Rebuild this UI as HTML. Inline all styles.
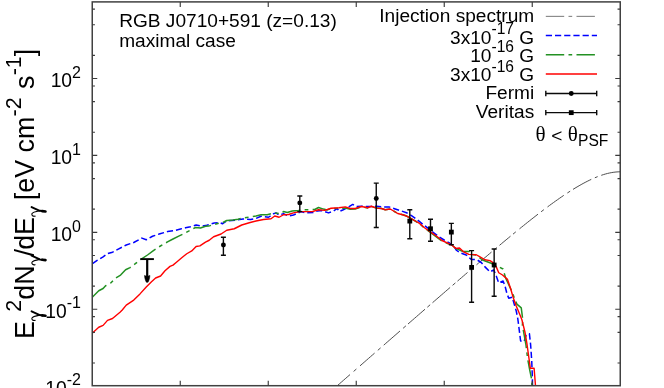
<!DOCTYPE html>
<html><head><meta charset="utf-8"><title>plot</title>
<style>html,body{margin:0;padding:0;background:#fff;}body{width:664px;height:388px;overflow:hidden;}svg{display:block;will-change:transform;}text{filter:grayscale(1);}text{font-family:"Liberation Sans", sans-serif;fill:#000;}</style>
</head><body>
<svg width="664" height="388" viewBox="0 0 664 388">
<rect x="0" y="0" width="664" height="388" fill="#fff"/>
<path d="M337.40,385.60 L339.50,383.76 L341.60,381.93 L343.70,380.10 L345.80,378.26 L347.90,376.43 L350.00,374.60 M360.00,365.86 L362.09,364.04 L364.17,362.22 L366.26,360.40 L368.34,358.58 L370.43,356.76 L372.51,354.94 L374.60,353.12 M383.75,345.14 L385.78,343.37 L387.81,341.60 L389.84,339.83 L391.88,338.06 L393.91,336.29 L395.94,334.52 L397.97,332.75 L400.00,330.98 M408.00,324.01 L410.12,322.16 L412.25,320.31 L414.38,318.46 L416.50,316.62 L418.62,314.77 L420.75,312.92 L422.88,311.07 L425.00,309.23 M432.50,302.72 L434.70,300.81 L436.90,298.90 L439.10,297.00 L441.30,295.09 L443.50,293.19 L445.70,291.28 L447.90,289.38 L450.10,287.48 M457.50,281.10 L459.50,279.38 L461.50,277.66 L463.50,275.94 L465.50,274.22 L467.50,272.50 M476.50,264.80 L478.64,262.97 L480.79,261.15 L482.93,259.32 L485.07,257.50 L487.21,255.69 L489.36,253.87 L491.50,252.06 M499.50,245.34 L501.70,243.50 L503.90,241.67 L506.10,239.84 L508.30,238.02 L510.50,236.20 M519.50,228.84 L521.56,227.18 L523.61,225.52 L525.67,223.87 L527.72,222.23 L529.78,220.60 L531.83,218.97 L533.89,217.36 L535.94,215.76 L538.00,214.16 M547.50,206.96 L549.53,205.45 L551.56,203.96 L553.59,202.49 L555.62,201.04 L557.66,199.60 L559.69,198.18 L561.72,196.77 L563.75,195.39 M573.00,189.40 L575.03,188.15 L577.06,186.94 L579.08,185.75 L581.11,184.60 L583.14,183.48 L585.17,182.40 L587.19,181.35 L589.22,180.35 L591.25,179.38 M601.25,175.32 L603.36,174.63 L605.46,174.01 L607.57,173.45 L609.67,172.97 L611.78,172.57 L613.88,172.24 L615.99,172.00 L618.09,171.85 L620.20,171.80 M353.60,371.45 L356.40,369.01 M377.80,350.33 L380.60,347.89 M403.10,328.28 L405.90,325.84 M427.35,307.19 L430.15,304.76 M452.60,285.32 L455.40,282.91 M470.60,269.84 L473.40,267.45 M494.10,249.87 L496.90,247.52 M513.00,234.15 L515.80,231.85 M541.10,211.78 L543.90,209.65 M567.35,193.00 L570.15,191.19 M594.85,177.78 L597.65,176.64" fill="none" stroke="#444" stroke-width="0.95"/>
<path d="M92.50,263.60 L97.50,260.20 L103.10,256.90 L107.50,253.70 L112.50,252.20 L118.75,248.90 L126.25,245.00 L133.75,242.50 L141.90,238.10 L146.25,239.75 L152.50,236.25 L160.00,233.75 L167.50,231.60 L174.90,230.50 L180.50,229.00 L185.50,227.75 L190.50,226.75 L196.10,225.00 L201.75,226.25 L206.75,225.25 L214.25,223.00 L220.50,222.75 L222.40,223.75 L226.75,220.90 L235.50,220.25 L243.00,219.00 L250.50,219.60 L256.00,218.40 L261.00,216.25 L268.50,217.25 L273.50,213.75 L276.00,212.90 L279.10,215.00 L283.50,213.75 L288.50,216.00 L293.50,215.00 L298.50,212.90 L301.00,211.60 L306.00,212.90 L313.50,212.50 L317.25,211.00 L322.00,210.60 L328.50,212.90 L333.50,211.00 L337.25,208.50 L339.00,211.50 L342.75,210.00 L347.75,207.50 L352.75,204.40 L356.50,206.50 L361.50,206.25 L367.75,206.50 L376.50,206.25 L382.75,206.90 L389.00,206.90 L395.25,209.00 L401.50,211.00 L406.50,212.75 L411.50,215.60 L417.00,219.60 L423.25,224.60 L428.25,228.40 L434.50,233.40 L439.50,237.10 L444.50,240.25 L449.50,243.00 L454.50,247.10 L456.40,250.25 L460.00,252.75 L466.25,255.00 L471.25,259.40 L476.90,259.75 L481.25,262.50 L485.00,266.90 L490.00,271.90 L493.75,270.00 L496.25,276.00 L498.75,282.90 L503.10,281.00 L505.00,286.00 L506.90,293.50 L508.75,298.25 L512.25,297.25 L514.40,304.75 L516.25,311.00 L517.75,318.50 L518.50,324.00 L520.60,341.00 L524.10,341.40 L525.90,335.75 L529.40,333.70 L530.60,344.50 L531.70,360.30 L532.40,377.80 L532.50,385.70" fill="none" stroke="#0000ff" stroke-width="1.5" stroke-dasharray="6.2,3" stroke-linejoin="round"/>
<path d="M92.50,297.00 L98.75,290.75 L103.10,288.50 L105.60,285.75 L111.25,282.60 L115.60,278.00 L120.60,275.10 L125.60,269.75 L130.00,267.60 L135.00,263.90 L140.00,260.00 L147.50,255.00 L153.75,250.30 L160.00,246.25 L167.50,241.90 L173.00,239.00 L179.25,235.90 L186.75,232.10 L191.75,229.60 L195.50,227.50 L200.50,228.00 L205.50,226.25 L208.60,226.10 L214.50,224.40 L220.50,222.75 L223.00,222.50 L226.75,220.50 L233.00,220.00 L238.00,219.25 L244.25,217.75 L249.25,217.10 L256.00,216.00 L261.00,214.75 L267.25,214.75 L274.75,212.90 L280.40,213.75 L283.50,211.60 L287.25,212.50 L292.25,211.00 L298.50,210.40 L303.50,209.75 L309.10,209.75 L314.75,209.50 L318.50,207.50 L323.50,209.10 L327.00,210.00 L331.00,208.50 L339.00,208.30 L345.25,208.00 L350.25,209.30 L355.25,209.00 L361.50,206.80 L367.75,207.90 L371.50,206.50 L376.50,208.10 L381.50,208.50 L385.25,209.75 L390.25,209.00 L394.00,211.25 L397.75,213.50 L402.75,214.75 L406.50,216.00 L410.25,218.10 L415.25,221.00 L419.50,223.60 L424.50,228.20 L430.75,232.60 L437.00,237.30 L442.00,241.00 L448.25,243.80 L452.00,245.40 L455.75,248.40 L463.00,251.50 L469.40,251.50 L471.00,254.20 L476.25,255.00 L482.50,260.00 L492.50,263.75 L498.00,266.25 L503.00,269.00 L505.60,277.90 L508.75,284.75 L512.25,292.25 L515.00,299.75 L516.90,304.10 L521.25,307.90 L521.90,312.90 L522.75,319.75 L522.40,325.25 L525.90,344.50 L527.60,358.50 L529.90,370.80 L531.70,379.50 L532.00,385.70" fill="none" stroke="#239123" stroke-width="1.5" stroke-dasharray="18.4,4.3,3.7,4.3" stroke-linejoin="round"/>
<path d="M92.50,332.90 L98.75,327.25 L103.10,325.40 L107.50,320.40 L112.50,318.50 L120.00,312.25 L122.25,310.00 L126.25,305.10 L133.75,300.10 L140.00,293.90 L146.25,287.00 L151.25,282.00 L155.60,278.00 L160.60,276.00 L165.00,270.75 L170.00,266.40 L173.00,265.10 L176.75,262.00 L181.75,257.75 L186.75,253.75 L191.75,250.90 L196.10,246.50 L199.90,245.90 L205.50,242.10 L209.25,240.25 L213.60,236.75 L221.10,234.00 L226.75,230.25 L234.25,228.75 L241.75,225.00 L249.25,222.75 L256.00,221.00 L263.50,219.50 L271.00,218.75 L274.75,216.00 L279.10,217.25 L283.50,214.75 L288.50,214.50 L293.50,212.90 L299.75,211.60 L306.00,211.60 L312.25,211.60 L318.50,209.75 L324.75,210.40 L331.00,208.25 L339.00,207.75 L345.25,206.90 L350.25,208.50 L355.25,208.50 L361.50,206.50 L367.75,207.75 L371.50,206.25 L376.50,208.10 L381.50,208.50 L385.25,209.75 L390.25,209.00 L394.00,211.25 L397.75,213.50 L402.75,214.75 L406.50,216.00 L410.25,218.10 L415.25,221.00 L419.50,223.40 L424.50,227.75 L430.75,232.10 L437.00,236.50 L442.00,240.50 L448.25,243.40 L452.00,245.25 L455.75,248.40 L459.50,248.00 L463.75,251.90 L468.75,254.40 L476.25,254.75 L480.00,256.90 L485.00,259.75 L490.00,260.60 L493.75,263.10 L496.25,266.90 L498.75,272.75 L502.50,275.00 L507.50,279.40 L510.60,288.50 L513.10,297.25 L516.25,306.00 L519.40,313.50 L521.90,319.75 L525.00,332.25 L526.80,342.75 L528.50,355.00 L530.30,368.20 L534.10,368.20 L535.50,385.70" fill="none" stroke="#ff0000" stroke-width="1.4" stroke-linejoin="round"/>
<path d="M140.3,259.1 H153.9" stroke="#000" stroke-width="1.9" fill="none"/>
<path d="M147.2,259.1 V277" stroke="#000" stroke-width="2.2" fill="none"/>
<path d="M144.5,275.4 L147.2,276.4 L149.9,275.4 C149.8,278 149,280.6 148.0,282.3 L146.4,282.3 C145.4,280.6 144.6,278 144.5,275.4 Z" fill="#000" stroke="#000" stroke-width="0.5" stroke-linejoin="round"/>
<path d="M223.40,237.20 V255.20 M220.90,237.20 H225.90 M220.90,255.20 H225.90" stroke="#0a0a0a" stroke-width="1.4" fill="none"/>
<circle cx="223.40" cy="245.00" r="2.45" fill="#000"/>
<path d="M299.80,196.00 V211.60 M297.30,196.00 H302.30 M297.30,211.60 H302.30" stroke="#0a0a0a" stroke-width="1.4" fill="none"/>
<circle cx="299.80" cy="202.90" r="2.45" fill="#000"/>
<path d="M376.25,183.10 V227.50 M373.75,183.10 H378.75 M373.75,227.50 H378.75" stroke="#0a0a0a" stroke-width="1.4" fill="none"/>
<circle cx="376.25" cy="198.50" r="2.45" fill="#000"/>
<path d="M409.80,209.70 V238.75 M407.30,209.70 H412.30 M407.30,238.75 H412.30" stroke="#0a0a0a" stroke-width="1.4" fill="none"/>
<rect x="407.40" y="218.70" width="4.8" height="4.8" fill="#000"/>
<path d="M430.50,219.25 V241.30 M428.00,219.25 H433.00 M428.00,241.30 H433.00" stroke="#0a0a0a" stroke-width="1.4" fill="none"/>
<rect x="428.10" y="226.35" width="4.8" height="4.8" fill="#000"/>
<path d="M451.35,223.40 V244.70 M448.85,223.40 H453.85 M448.85,244.70 H453.85" stroke="#0a0a0a" stroke-width="1.4" fill="none"/>
<rect x="448.95" y="229.70" width="4.8" height="4.8" fill="#000"/>
<path d="M471.60,250.60 V302.20 M469.10,250.60 H474.10 M469.10,302.20 H474.10" stroke="#0a0a0a" stroke-width="1.4" fill="none"/>
<rect x="469.20" y="265.00" width="4.8" height="4.8" fill="#000"/>
<path d="M494.15,249.00 V296.25 M491.65,249.00 H496.65 M491.65,296.25 H496.65" stroke="#0a0a0a" stroke-width="1.4" fill="none"/>
<rect x="491.75" y="262.60" width="4.8" height="4.8" fill="#000"/>
<rect x="92.25" y="1.90" width="528.00" height="383.80" stroke="#414141" stroke-width="1.5" fill="none"/>
<path d="M180.25,1.90 v5 M180.25,385.70 v-5 M268.25,1.90 v5 M268.25,385.70 v-5 M356.25,1.90 v5 M356.25,385.70 v-5 M444.25,1.90 v5 M444.25,385.70 v-5 M532.25,1.90 v5 M532.25,385.70 v-5 M92.25,362.95 h2.7 M620.25,362.95 h-2.7 M92.25,332.35 h2.7 M620.25,332.35 h-2.7 M92.25,316.65 h2.7 M620.25,316.65 h-2.7 M92.25,309.20 h5.0 M620.25,309.20 h-5.0 M92.25,286.05 h2.7 M620.25,286.05 h-2.7 M92.25,255.45 h2.7 M620.25,255.45 h-2.7 M92.25,239.75 h2.7 M620.25,239.75 h-2.7 M92.25,232.30 h5.0 M620.25,232.30 h-5.0 M92.25,209.15 h2.7 M620.25,209.15 h-2.7 M92.25,178.55 h2.7 M620.25,178.55 h-2.7 M92.25,162.85 h2.7 M620.25,162.85 h-2.7 M92.25,155.40 h5.0 M620.25,155.40 h-5.0 M92.25,132.25 h2.7 M620.25,132.25 h-2.7 M92.25,101.65 h2.7 M620.25,101.65 h-2.7 M92.25,85.95 h2.7 M620.25,85.95 h-2.7 M92.25,78.50 h5.0 M620.25,78.50 h-5.0 M92.25,55.35 h2.7 M620.25,55.35 h-2.7 M92.25,24.75 h2.7 M620.25,24.75 h-2.7 M92.25,9.05 h2.7 M620.25,9.05 h-2.7" stroke="#3a3a3a" stroke-width="1.15" fill="none"/>
<text x="81.0" y="87.20" text-anchor="end" font-size="19.3">10<tspan font-size="16.0" dx="0" dy="-9.5">2</tspan></text>
<text x="81.0" y="164.10" text-anchor="end" font-size="19.3">10<tspan font-size="16.0" dx="0" dy="-9.5">1</tspan></text>
<text x="81.0" y="241.00" text-anchor="end" font-size="19.3">10<tspan font-size="16.0" dx="0" dy="-9.5">0</tspan></text>
<text x="81.0" y="317.90" text-anchor="end" font-size="19.3">10<tspan font-size="16.0" dx="0" dy="-9.5">-1</tspan></text>
<text x="81.0" y="394.80" text-anchor="end" font-size="19.3">10<tspan font-size="16.0" dx="0" dy="-9.5">-2</tspan></text>
<text x="119.2" y="27.1" font-size="19.1">RGB J0710+591 (z=0.13)</text>
<text x="119.2" y="46.5" font-size="19.1">maximal case</text>
<text x="534.2" y="22" text-anchor="end" font-size="19.1">Injection spectrum</text>
<text x="534.2" y="43.50" text-anchor="end" font-size="19.1">3x10<tspan font-size="15.6" dy="-9.6">-17</tspan><tspan dy="9.6"> G</tspan></text>
<text x="534.2" y="62.00" text-anchor="end" font-size="19.1">10<tspan font-size="15.6" dy="-9.6">-16</tspan><tspan dy="9.6"> G</tspan></text>
<text x="534.2" y="81.30" text-anchor="end" font-size="19.1">3x10<tspan font-size="15.6" dy="-9.6">-16</tspan><tspan dy="9.6"> G</tspan></text>
<text x="534.2" y="98.6" text-anchor="end" font-size="19.1">Fermi</text>
<text x="534.2" y="118" text-anchor="end" font-size="19.1">Veritas</text>
<path d="M545.8,16.35 H597" fill="none" stroke="#555" stroke-width="0.8" stroke-dasharray="18.4,4.3,3.7,4.3"/>
<path d="M545.8,35.6 H597" fill="none" stroke="#0000ff" stroke-width="1.5" stroke-dasharray="6.2,3"/>
<path d="M545.8,54.85 H597" fill="none" stroke="#239123" stroke-width="1.5" stroke-dasharray="18.4,4.3,3.7,4.3"/>
<path d="M545.8,74 H597" fill="none" stroke="#ff0000" stroke-width="1.4"/>
<path d="M545.8,93.45 H596.7 M545.8,90.75 v5.4 M596.7,90.75 v5.4" stroke="#0a0a0a" stroke-width="1.4" fill="none"/>
<path d="M545.8,112.65 H596.7 M545.8,109.95 v5.4 M596.7,109.95 v5.4" stroke="#0a0a0a" stroke-width="1.4" fill="none"/>
<circle cx="571.25" cy="93.45" r="2.45" fill="#000"/>
<rect x="568.85" y="110.25" width="4.8" height="4.8" fill="#000"/>
<text transform="translate(535.6,141.15) scale(1.03,0.975)" x="0" y="0" style='font-family:"Liberation Serif", serif' font-size="20.5">θ</text>
<text transform="translate(567.7,141.15) scale(1.03,0.975)" x="0" y="0" style='font-family:"Liberation Serif", serif' font-size="20.5">θ</text>
<text x="551.3" y="141.7" font-size="19.1">&lt;</text>
<text x="578.0" y="146.3" font-size="15.6">PSF</text>
<g transform="translate(34.3,339.0) rotate(-90) scale(0.973,1)">
<text x="0" y="0" font-size="27.6">E<tspan font-size="22.0" dy="-13.0" dx="9.72">2</tspan><tspan dy="13.0">dN</tspan><tspan dx="9.12">/</tspan><tspan dx="-0.8">dE</tspan><tspan dx="9.62"> [eV cm</tspan><tspan font-size="22.0" dy="-13.0" dx="0.3">-2</tspan><tspan dy="13.0" dx="1.0"> s</tspan><tspan font-size="22.0" dy="-13.0" dx="0.2">-1</tspan><tspan dy="13.0">]</tspan></text>
</g>
<g transform="translate(34.20,320.70) rotate(-90) scale(1.000)" fill="none" stroke="#000" stroke-linecap="round" stroke-linejoin="round">
<path d="M0.3,0.9 C-0.3,-1.2 1.2,-2.7 2.6,-2.3 C4.0,-1.8 4.8,1.5 5.6,5.6" stroke-width="1.1"/>
<path d="M9.3,-2.6 L5.6,5.6 L5.3,8.2" stroke-width="2.0"/>
<path d="M5.3,8.0 L4.9,11.3" stroke-width="2.6"/>
</g>
<g transform="translate(34.20,265.00) rotate(-90) scale(1.000)" fill="none" stroke="#000" stroke-linecap="round" stroke-linejoin="round">
<path d="M0.3,0.9 C-0.3,-1.2 1.2,-2.7 2.6,-2.3 C4.0,-1.8 4.8,1.5 5.6,5.6" stroke-width="1.1"/>
<path d="M9.3,-2.6 L5.6,5.6 L5.3,8.2" stroke-width="2.0"/>
<path d="M5.3,8.0 L4.9,11.3" stroke-width="2.6"/>
</g>
<g transform="translate(34.20,216.40) rotate(-90) scale(1.000)" fill="none" stroke="#000" stroke-linecap="round" stroke-linejoin="round">
<path d="M0.3,0.9 C-0.3,-1.2 1.2,-2.7 2.6,-2.3 C4.0,-1.8 4.8,1.5 5.6,5.6" stroke-width="1.1"/>
<path d="M9.3,-2.6 L5.6,5.6 L5.3,8.2" stroke-width="2.0"/>
<path d="M5.3,8.0 L4.9,11.3" stroke-width="2.6"/>
</g>
</svg></body></html>
